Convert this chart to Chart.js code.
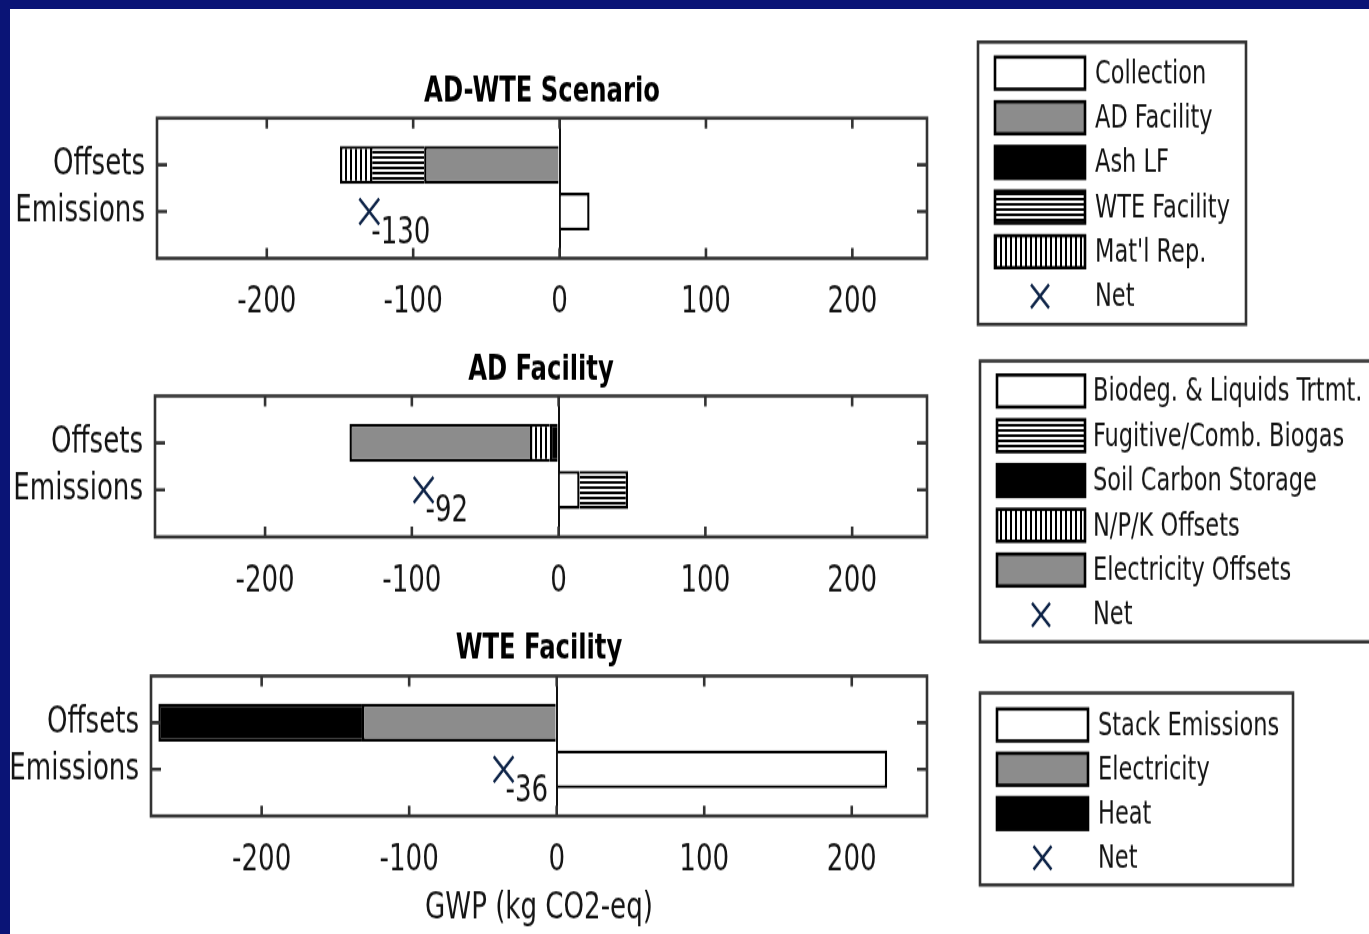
<!DOCTYPE html>
<html>
<head>
<meta charset="utf-8">
<script src="https://cdn.jsdelivr.net/npm/chart.js@4.4.1/dist/chart.umd.min.js"></script>
<style>
  html, body { margin: 0; padding: 0; background: #fff; }
  body { width: 1369px; height: 934px; position: relative; overflow: hidden; }
  canvas { position: absolute; left: 0; }
  .edge { position: absolute; background: #0a1476; z-index: 5; }
</style>
</head>
<body>
<div class="edge" style="left:0;top:0;width:1369px;height:9px"></div>
<div class="edge" style="left:0;top:0;width:10px;height:934px"></div>
<canvas id="scen"></canvas>
<canvas id="ad"></canvas>
<canvas id="wte"></canvas>
<script>
// rows of each panel (Offsets on top) and x tick labels
const rows = ['Offsets', 'Emissions'];
const xTicks = [-200, -100, 0, 100, 200];

// AD-WTE Scenario  [Offsets, Emissions]
const scenLabels = ['Collection', 'AD Facility', 'Ash LF', 'WTE Facility', "Mat'l Rep."];
const scenCollection = [null, 20.5];
const scenAD = [-92.5, null];
const scenAsh = [null, null];
const scenWTE = [-37, null];
const scenMat = [-20.5, null];

// AD Facility
const adLabels = ['Biodeg. & Liquids Trtmt.', 'Fugitive/Comb. Biogas', 'Soil Carbon Storage', 'N/P/K Offsets', 'Electricity Offsets'];
const adBiodeg = [null, 14.3];
const adFugitive = [null, 33];
const adSoil = [-6, null];
const adNPK = [-13.5, null];
const adElec = [-123, null];

// WTE Facility
const wteLabels = ['Stack Emissions', 'Electricity', 'Heat'];
const wteStack = [null, 224];
const wteElec = [-132, null];
const wteHeat = [-138, null];

// net values (plotted on the Emissions row)
const netValues = [-130, -92, -36];

// the original figure is stretched vertically; canvases are drawn short and shown taller
const S = 1.3;
const FONT = "'DejaVu Sans Condensed', 'DejaVu Sans', sans-serif";
const GRAY = '#8c8c8c';
const NAVY = '#0d2347';
const INK = '#141414';

function linePattern(dir) {
  const c = document.createElement('canvas');
  c.width = dir === 'v' ? 5 : 1;
  c.height = dir === 'v' ? 1 : 4;
  const g = c.getContext('2d');
  g.fillStyle = '#fff';
  g.fillRect(0, 0, c.width, c.height);
  g.fillStyle = '#000';
  if (dir === 'v') g.fillRect(0, 0, 2, 1); else g.fillRect(0, 0, 1, 2);
  return g.createPattern(c, 'repeat');
}
const HLINES = linePattern('h');
const VLINES = linePattern('v');

function barSet(label, values, fill) {
  return {
    type: 'bar',
    label: label,
    data: values.map((v, i) => ({ x: v, y: i + 1 })).filter(p => p.x !== null),
    backgroundColor: fill,
    borderColor: '#000',
    borderWidth: 2.4,
    categoryPercentage: 0.81,
    barPercentage: 1
  };
}

function netSet(value) {
  return {
    type: 'scatter',
    label: 'Net',
    data: [{ x: value, y: 2 }],
    pointStyle: 'crossRot',
    pointRadius: 14,
    borderColor: NAVY,
    backgroundColor: NAVY,
    borderWidth: 2.4
  };
}

// box around the plot with inward ticks on all four sides
const boxAxes = {
  id: 'boxAxes',
  afterDraw(chart) {
    const { ctx, chartArea: a } = chart;
    const x = chart.scales.x, y = chart.scales.y;
    ctx.save();
    ctx.strokeStyle = '#333';
    ctx.lineWidth = 2.6;
    ctx.strokeRect(a.left, a.top, a.right - a.left, a.bottom - a.top);
    ctx.beginPath();
    x.ticks.forEach(t => {
      const px = x.getPixelForValue(t.value);
      ctx.moveTo(px, a.top); ctx.lineTo(px, a.top + 8);
      ctx.moveTo(px, a.bottom); ctx.lineTo(px, a.bottom - 8);
    });
    y.ticks.forEach(t => {
      const py = y.getPixelForValue(t.value);
      ctx.moveTo(a.left, py); ctx.lineTo(a.left + 10, py);
      ctx.moveTo(a.right, py); ctx.lineTo(a.right - 10, py);
    });
    ctx.stroke();
    ctx.restore();
  }
};

// value written under the Net marker
const netLabels = {
  id: 'netLabels',
  afterDraw(chart) {
    const ctx = chart.ctx;
    chart.data.datasets.forEach((ds, i) => {
      if (ds.type !== 'scatter') return;
      chart.getDatasetMeta(i).data.forEach((pt, j) => {
        ctx.save();
        ctx.font = '29px ' + FONT;
        ctx.fillStyle = INK;
        ctx.textAlign = 'left';
        ctx.textBaseline = 'middle';
        ctx.fillText(String(ds.data[j].x), pt.x + 2, pt.y + 17);
        ctx.restore();
      });
    });
  }
};

// framed legend at the right of each panel (positions given in page pixels)
const boxLegend = {
  id: 'boxLegend',
  afterDraw(chart, args, o) {
    if (!o || o.left === undefined) return;
    const ctx = chart.ctx;
    const sh = 32 / S;
    ctx.save();
    ctx.strokeStyle = '#333';
    ctx.lineWidth = 2.6;
    ctx.strokeRect(o.left, o.top / S, o.right - o.left, (o.bottom - o.top) / S);
    ctx.font = '25px ' + FONT;
    ctx.textBaseline = 'middle';
    ctx.textAlign = 'left';
    chart.data.datasets.forEach((ds, i) => {
      const cy = (o.firstRow + i * o.rowGap) / S;
      if (ds.type === 'scatter') {
        const cx = o.swatchX + o.swatchW / 2;
        ctx.strokeStyle = NAVY;
        ctx.lineWidth = 2.4;
        ctx.beginPath();
        ctx.moveTo(cx - 9, cy - 9); ctx.lineTo(cx + 9, cy + 9);
        ctx.moveTo(cx + 9, cy - 9); ctx.lineTo(cx - 9, cy + 9);
        ctx.stroke();
      } else {
        ctx.fillStyle = ds.backgroundColor;
        ctx.fillRect(o.swatchX, cy - sh / 2, o.swatchW, sh);
        ctx.strokeStyle = '#000';
        ctx.lineWidth = 2.6;
        ctx.strokeRect(o.swatchX, cy - sh / 2, o.swatchW, sh);
      }
      ctx.fillStyle = INK;
      ctx.fillText(ds.label, o.textX, cy + 1);
    });
    ctx.restore();
  }
};

Chart.register(boxAxes, netLabels, boxLegend);

// lay: page-pixel layout relative to the panel's top edge
function makePanel(id, title, sets, lay, legend, axisTitle) {
  const canvas = document.getElementById(id);
  const h = Math.round(lay.height / S);
  canvas.width = 1369;
  canvas.height = h;
  canvas.style.top = lay.pageTop + 'px';
  canvas.style.width = '1369px';
  canvas.style.height = (h * S) + 'px';

  const titleLH = 27 * 1.2;
  const tc = (lay.titleCenter + 3) / S;
  const bottom = lay.bottom / S;

  new Chart(canvas, {
    type: 'bar',
    data: { datasets: sets },
    options: {
      indexAxis: 'y',
      responsive: false,
      animation: false,
      events: [],
      layout: { padding: { left: 0, right: 442, top: 0, bottom: 0 } },
      scales: {
        x: {
          type: 'linear',
          stacked: true,
          min: -275,
          max: 251,
          bounds: 'data',
          afterBuildTicks: s => { s.ticks = xTicks.map(v => ({ value: v })); },
          afterFit: s => { s.height = h - bottom; },
          ticks: {
            padding: 17,
            color: INK,
            font: { family: FONT, size: 29 },
            maxRotation: 0,
            callback: v => String(v)
          },
          grid: {
            drawTicks: false,
            lineWidth: 2,
            color: c => (c.tick && c.tick.value === 0 ? '#111' : 'rgba(0,0,0,0)')
          },
          border: { display: false },
          title: {
            display: !!axisTitle,
            text: axisTitle || '',
            color: INK,
            font: { family: FONT, size: 29 },
            padding: { top: 0, bottom: 2 }
          }
        },
        y: {
          type: 'linear',
          stacked: true,
          reverse: true,
          offset: false,
          min: 0,
          max: 3,
          bounds: 'data',
          afterBuildTicks: s => { s.ticks = rows.map((r, i) => ({ value: i + 1 })); },
          afterFit: s => { s.width = lay.left; },
          ticks: {
            padding: 12,
            color: INK,
            font: { family: FONT, size: 29 },
            callback: v => rows[v - 1]
          },
          grid: { display: false, drawTicks: false },
          border: { display: false }
        }
      },
      plugins: {
        legend: { display: false },
        tooltip: { enabled: false },
        title: {
          display: true,
          text: title,
          fullSize: false,
          color: '#000',
          font: { family: FONT, size: 27, weight: 'bold', lineHeight: 1.2 },
          padding: { top: tc - titleLH / 2, bottom: lay.top / S - tc - titleLH / 2 }
        },
        boxLegend: legend
      }
    }
  });
}

makePanel('scen', 'AD-WTE Scenario', [
  barSet(scenLabels[0], scenCollection, '#fff'),
  barSet(scenLabels[1], scenAD, GRAY),
  barSet(scenLabels[2], scenAsh, '#000'),
  barSet(scenLabels[3], scenWTE, HLINES),
  barSet(scenLabels[4], scenMat, VLINES),
  netSet(netValues[0])
], { pageTop: 0, height: 340, left: 157, top: 118, bottom: 258, titleCenter: 89 },
{ left: 978, top: 42, right: 1246, bottom: 324, firstRow: 73, rowGap: 44.6, swatchX: 995, swatchW: 90, textX: 1095 });

makePanel('ad', 'AD Facility', [
  barSet(adLabels[0], adBiodeg, '#fff'),
  barSet(adLabels[1], adFugitive, HLINES),
  barSet(adLabels[2], adSoil, '#000'),
  barSet(adLabels[3], adNPK, VLINES),
  barSet(adLabels[4], adElec, GRAY),
  netSet(netValues[1])
], { pageTop: 320, height: 330, left: 155, top: 76, bottom: 217, titleCenter: 48 },
{ left: 980, top: 41, right: 1380, bottom: 322, firstRow: 71, rowGap: 44.8, swatchX: 997, swatchW: 88, textX: 1093 });

makePanel('wte', 'WTE Facility', [
  barSet(wteLabels[0], wteStack, '#fff'),
  barSet(wteLabels[1], wteElec, GRAY),
  barSet(wteLabels[2], wteHeat, '#000'),
  netSet(netValues[2])
], { pageTop: 600, height: 334, left: 151, top: 76, bottom: 216, titleCenter: 47 },
{ left: 980, top: 93, right: 1293, bottom: 285, firstRow: 125, rowGap: 44.3, swatchX: 997, swatchW: 91, textX: 1098 },
'GWP (kg CO2-eq)');
</script>
</body>
</html>
